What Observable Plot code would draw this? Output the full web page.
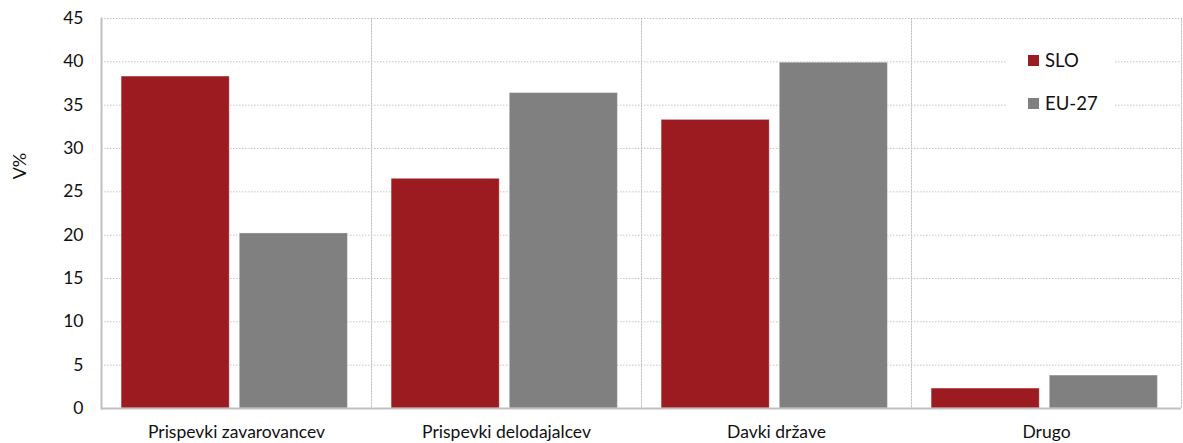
<!DOCTYPE html>
<html>
<head>
<meta charset="utf-8">
<script src="https://cdn.jsdelivr.net/npm/d3@7"></script>
<script src="https://cdn.jsdelivr.net/npm/@observablehq/plot@0.6"></script>
<style>
  html, body { margin: 0; padding: 0; background: #fff; }
  #wrap { position: relative; width: 1183px; height: 443px; font-family: Lato, sans-serif; }
  #ylabel { position: absolute; left: 19px; top: 166px; transform: translate(-50%, -50%) rotate(-90deg); font-size: 18px; color: #111; white-space: nowrap; line-height: 1; }
  #legend { position: absolute; left: 1007px; top: 40px; width: 107px; height: 80px; background: #fff; font-size: 18.5px; color: #111; }
  .li { position: absolute; left: 21px; display: flex; align-items: center; line-height: 1; }
  .sw { width: 11px; height: 11px; margin-right: 6px; }
</style>
</head>
<body>
<div id="wrap"></div>
<script>
const categories = ["Prispevki zavarovancev", "Prispevki delodajalcev", "Davki države", "Drugo"];
const seriesNames = ["SLO", "EU-27"];
const sloValues = [38.3, 26.5, 33.3, 2.3];
const euValues = [20.2, 36.4, 39.9, 3.8];
const colors = ["#9b1b20", "#808080"];
const yTicks = [0, 5, 10, 15, 20, 25, 30, 35, 40, 45];

const data = [];
categories.forEach((c, i) => {
  data.push({cat: c, series: seriesNames[0], value: sloValues[i]});
  data.push({cat: c, series: seriesNames[1], value: euValues[i]});
});

const chart = Plot.plot({
  width: 1183,
  height: 443,
  marginLeft: 99,
  marginRight: 1,
  marginTop: 18,
  marginBottom: 35,
  style: {fontFamily: "Lato, sans-serif", fontSize: "17.5px", color: "#111", background: "#fff"},
  fx: {domain: categories, paddingInner: 0, paddingOuter: 0, label: null},
  x: {domain: seriesNames, paddingInner: 0.085, paddingOuter: 0.185, align: 0.46, round: false, axis: null},
  y: {domain: [0, 45], label: null},
  color: {domain: seriesNames, range: colors},
  marks: [
    Plot.gridY(yTicks.filter(d => d > 0), {stroke: "#c4c4c4", strokeOpacity: 1, strokeDasharray: "1.5,1.5", strokeWidth: 1}),
    Plot.frame({anchor: "right", stroke: "#c4c4c4", strokeDasharray: "1.5,1.5", strokeWidth: 1}),
    Plot.barY(data, {fx: "cat", x: "series", y: "value", fill: "series", stroke: "#fff", strokeOpacity: 0.35, strokeWidth: 1}),
    Plot.ruleY([0], {stroke: "#c0c0c0", strokeWidth: 2}),
    Plot.frame({anchor: "left", facetAnchor: "left", stroke: "#c0c0c0", strokeWidth: 2}),
    Plot.axisY(yTicks, {anchor: "left", tickSize: 0, tickPadding: 18, label: null, fontSize: 17.5}),
    Plot.axisFx({anchor: "bottom", tickSize: 0, tickPadding: 17, label: null, fontSize: 17.5})
  ]
});

const wrap = document.getElementById("wrap");
wrap.appendChild(chart);

const yl = document.createElement("div");
yl.id = "ylabel";
yl.textContent = "V%";
wrap.appendChild(yl);

const lg = document.createElement("div");
lg.id = "legend";
seriesNames.forEach((s, i) => {
  const item = document.createElement("div");
  item.className = "li";
  item.style.top = (i === 0 ? 11 : 54) + "px";
  const sw = document.createElement("span");
  sw.className = "sw";
  sw.style.background = colors[i];
  const t = document.createElement("span");
  t.textContent = s;
  item.appendChild(sw);
  item.appendChild(t);
  lg.appendChild(item);
});
wrap.appendChild(lg);
</script>
</body>
</html>
